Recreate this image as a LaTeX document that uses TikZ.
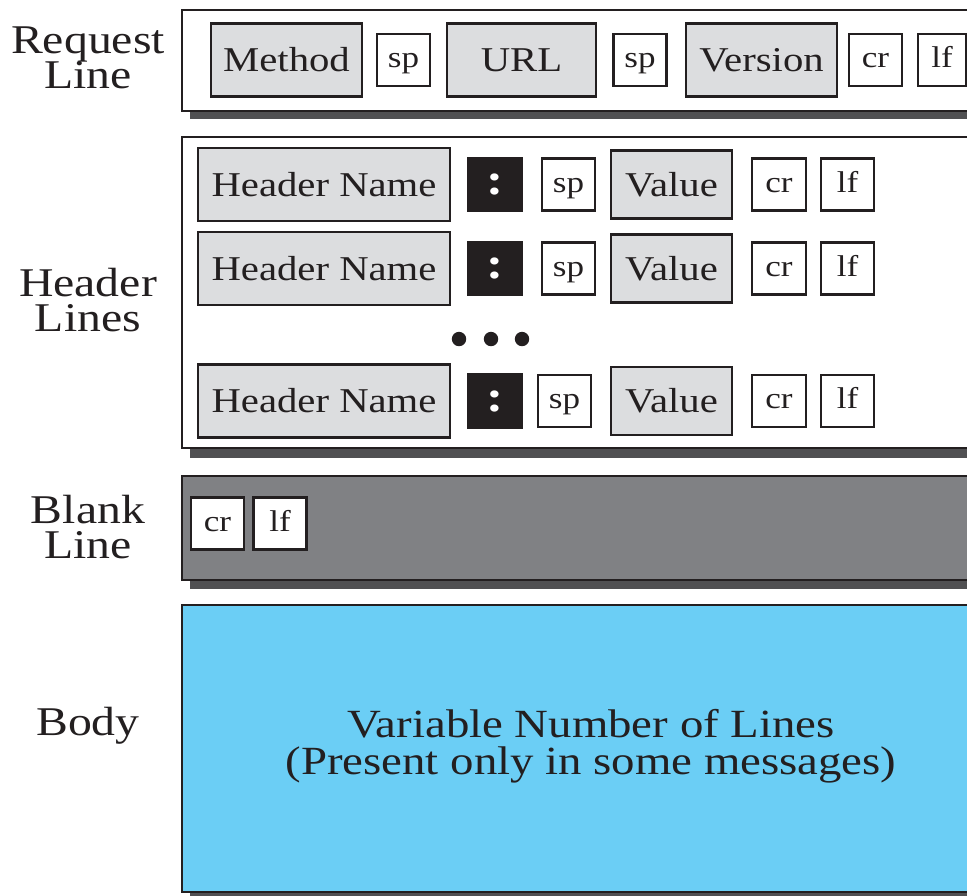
\documentclass[tikz,border=0pt]{standalone}
\usepackage{fontspec}
\setmainfont{Liberation Serif}[FakeStretch=1.17]
\usepackage{tikz}
\usetikzlibrary{positioning}
\definecolor{inkblack}{HTML}{231F20}
\definecolor{fieldgray}{HTML}{DCDDDF}
\definecolor{blankgray}{HTML}{808184}
\definecolor{shadegray}{HTML}{505052}
\definecolor{bodyblue}{HTML}{6BCEF5}
\newcommand{\tightskip}{\setlength{\lineskiplimit}{-20pt}}
\tikzset{
  msgframe/.style={ draw=inkblack, line width=1.1pt }
}
\tikzset{
  dropshade/.style={ fill=shadegray }
}
\tikzset{
  fieldbox/.style={ draw=inkblack, fill=fieldgray, line width=1.1pt, inner sep=0pt,
    text=inkblack, text height=11.5pt, text depth=0pt, minimum height=36.5pt,
    font=\fontsize{17.4}{20}\selectfont }
}
\tikzset{
  ctrlbox/.style={ draw=inkblack, fill=white, line width=1.1pt, inner sep=0pt,
    text=inkblack, text height=7.5pt, text depth=0pt, minimum width=26.5pt,
    minimum height=26pt, font=\fontsize{15}{17}\selectfont }
}
\tikzset{
  colonbox/.style={ draw=inkblack, fill=inkblack, line width=1.1pt, inner sep=0pt,
    text=white, text height=10pt, text depth=0pt, minimum width=27pt,
    minimum height=26.5pt, font=\fontsize{22}{24}\bfseries }
}
\tikzset{
  sectlabel/.style={ align=center, text=inkblack, inner sep=0pt,
    font=\fontsize{20.4}{17.8}\selectfont\tightskip }
}

\begin{document}
\begin{tikzpicture}[x=0.5pt, y=-0.5pt]
  \useasboundingbox (0,0) rectangle (967,895);
  \clip (0,0) rectangle (967,895);

  % the four frames with their shadows
  \fill[dropshade] (190,18) rectangle (990,119);
  \draw[msgframe, fill=white] (182,10) rectangle (990,111);
  \fill[dropshade] (190,145) rectangle (990,458);
  \draw[msgframe, fill=white] (182,137) rectangle (990,448);
  \fill[dropshade] (190,484) rectangle (990,589);
  \draw[msgframe, fill=blankgray] (182,476) rectangle (990,580);
  \fill[dropshade] (190,613) rectangle (990,899);
  \draw[msgframe, fill=bodyblue] (182,605) rectangle (990,892);

  \node[sectlabel] (reqlbl) at (88,58) {Request\\Line};
  \node[sectlabel] (hdrlbl) at (88,300) {Header\\Lines};
  \node[sectlabel] (blanklbl) at (88,527) {Blank\\Line};
  \node[sectlabel] (bodylbl) at (88,726) {Body};

  % request line
  \node[fieldbox, minimum width=75.5pt] (method) at (286.5,60) {Method};
  \node[ctrlbox] (rsp1) at (403.5,60) {sp};
  \node[fieldbox, minimum width=74.5pt] (url) at (521.5,60) {URL};
  \node[ctrlbox] (rsp2) at (640,60) {sp};
  \node[fieldbox, minimum width=75.5pt] (version) at (761.5,60) {Version};
  \node[ctrlbox] (rcr) at (875.5,60) {cr};
  \node[ctrlbox, minimum width=24pt] (rlf) at (942,60) {lf};

  % header lines
  \node[fieldbox, minimum width=126pt] (hname1) at (324,184.5) {Header Name};
  \node[colonbox] (colon1) at (495,184.5) {:};
  \node[ctrlbox] (hsp1) at (568.5,184.5) {sp};
  \node[fieldbox, minimum width=60.5pt, minimum height=34pt] (value1) at (671.5,184.5) {Value};
  \node[ctrlbox, minimum width=27pt] (hcr1) at (779,184.5) {cr};
  \node[ctrlbox] (hlf1) at (847.5,184.5) {lf};

  \node[fieldbox, minimum width=126pt] (hname2) at (324,268.5) {Header Name};
  \node[colonbox] (colon2) at (495,268.5) {:};
  \node[ctrlbox] (hsp2) at (568.5,268.5) {sp};
  \node[fieldbox, minimum width=60.5pt, minimum height=34pt] (value2) at (671.5,268.5) {Value};
  \node[ctrlbox, minimum width=27pt] (hcr2) at (779,268.5) {cr};
  \node[ctrlbox] (hlf2) at (847.5,268.5) {lf};

  \fill[inkblack] (459,339) circle[radius=3.6pt];
  \fill[inkblack] (491,339) circle[radius=3.6pt];
  \fill[inkblack] (522,339) circle[radius=3.6pt];

  \node[fieldbox, minimum width=126pt] (hname3) at (324,401) {Header Name};
  \node[colonbox] (colon3) at (495,401) {:};
  \node[ctrlbox] (hsp3) at (564.5,401) {sp};
  \node[fieldbox, minimum width=60.5pt, minimum height=34pt] (value3) at (671.5,401) {Value};
  \node[ctrlbox, minimum width=27pt] (hcr3) at (779,401) {cr};
  \node[ctrlbox] (hlf3) at (847.5,401) {lf};

  % blank line
  \node[ctrlbox] (bcr) at (217.5,523.5) {cr};
  \node[ctrlbox] (blf) at (280,523.5) {lf};

  % body
  \node[sectlabel, font=\fontsize{20}{18.7}\selectfont\tightskip] (bodytxt) at (591,746)
    {Variable Number of Lines\\(Present only in some messages)};
\end{tikzpicture}
\end{document}
